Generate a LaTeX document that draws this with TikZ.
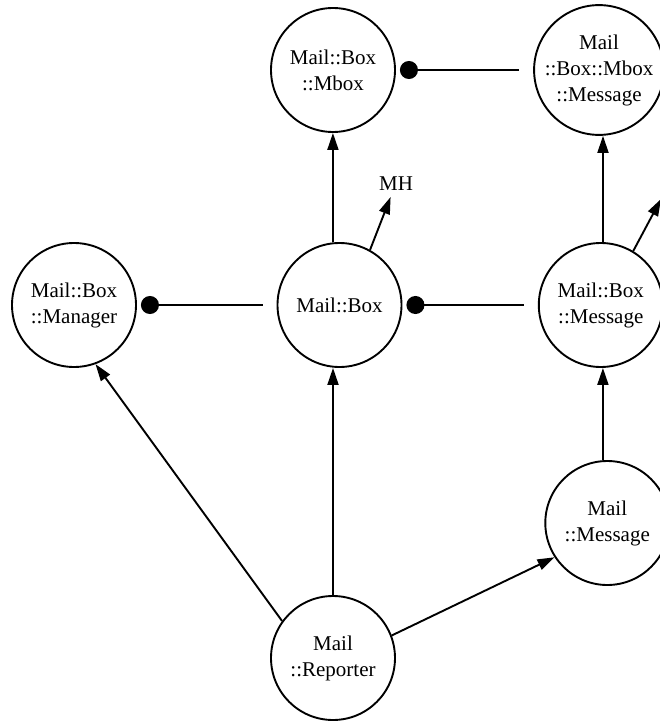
\documentclass[tikz,border=0pt]{standalone}
\usepackage{fontspec}
\setmainfont{Liberation Serif}
\usetikzlibrary{arrows.meta}
\begin{document}
\begin{tikzpicture}[x=1pt,y=-1pt,
  cls/.style={draw,circle,line width=1.9pt,minimum size=124pt,inner sep=0pt,
    align=center,font=\fontsize{21}{26}\selectfont},
  lbl/.style={inner sep=3pt,outer sep=4pt,font=\fontsize{21}{26}\selectfont},
  isa/.style={line width=1.9pt,-{Triangle[length=17pt,width=11pt]}},
  has/.style={line width=1.9pt,-{Circle[length=18pt]},shorten <=14pt,shorten >=4pt}]
\useasboundingbox (0,0) rectangle (660,722);
\clip (0,0) rectangle (660,722);

% classes
\node[cls] (mbox)     at (333,70)    {Mail::Box\\::Mbox};
\node[cls] (mboxmsg)  at (599,70)    {Mail\\::Box::Mbox\\::Message};
\node[cls] (manager)  at (74,305)    {Mail::Box\\::Manager};
\node[cls] (box)      at (339.5,305) {Mail::Box};
\node[cls] (boxmsg)   at (600.8,305) {Mail::Box\\::Message};
\node[cls] (message)  at (607.3,523) {Mail\\::Message};
\node[cls] (reporter) at (333,658)   {Mail\\::Reporter};
\node[lbl,anchor=south] (mh) at (396,197) {MH};
\coordinate (mhout) at (661,199);

% containment
\draw[has] (mboxmsg) -- (mbox);
\draw[has] (box) -- (manager);
\draw[has] (boxmsg) -- (box);

% inheritance
\draw[isa] (box.96) -- (box.96 |- mbox.south);
\draw[isa] (box.61) -- (mh);
\draw[isa] (boxmsg.88) -- (boxmsg.88 |- mboxmsg.south);
\draw[isa] (boxmsg.59) -- (mhout);
\draw[isa] (message.94) -- (message.94 |- boxmsg.south);
\draw[isa] (reporter.144) -- (manager.-70);
\draw[isa] (reporter.north) -- (reporter.north |- box.south);
\draw[isa] (reporter.21) -- (message.213);
\end{tikzpicture}
\end{document}
